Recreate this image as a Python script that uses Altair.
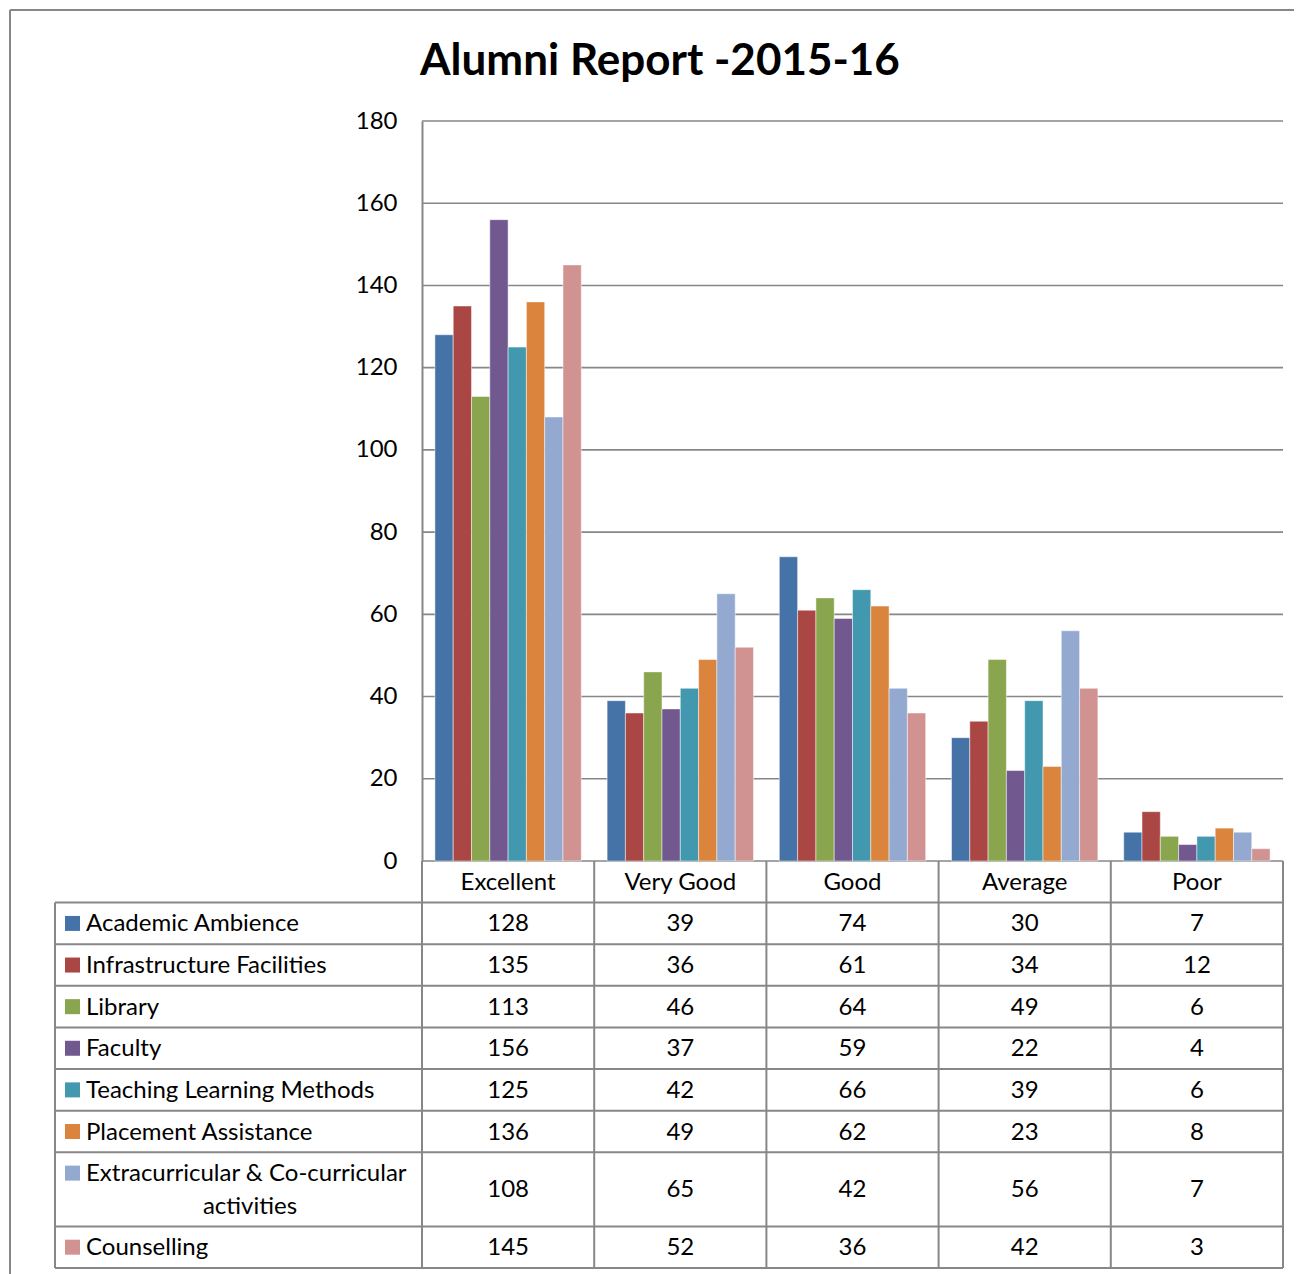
import altair as alt
import pandas as pd

# ---------------- data ----------------
title_text = "Alumni Report -2015-16"
categories = ["Excellent", "Very Good", "Good", "Average", "Poor"]
series = [
    "Academic Ambience",
    "Infrastructure Facilities",
    "Library",
    "Faculty",
    "Teaching Learning Methods",
    "Placement Assistance",
    "Extracurricular & Co-curricular activities",
    "Counselling",
]
label_lines = [
    ["Academic Ambience"],
    ["Infrastructure Facilities"],
    ["Library"],
    ["Faculty"],
    ["Teaching Learning Methods"],
    ["Placement Assistance"],
    ["Extracurricular & Co-curricular", "activities"],
    ["Counselling"],
]
academic = [128, 39, 74, 30, 7]
infrastructure = [135, 36, 61, 34, 12]
library = [113, 46, 64, 49, 6]
faculty = [156, 37, 59, 22, 4]
teaching = [125, 42, 66, 39, 6]
placement = [136, 49, 62, 23, 8]
extracurricular = [108, 65, 42, 56, 7]
counselling = [145, 52, 36, 42, 3]
values = [academic, infrastructure, library, faculty, teaching, placement,
          extracurricular, counselling]
colors = ["#4572A7", "#AA4643", "#89A54E", "#71588F", "#4198AF", "#DB843D",
          "#93A9CF", "#D19392"]
y_ticks = [0, 20, 40, 60, 80, 100, 120, 140, 160, 180]

# ---------------- layout ----------------
W = 1228          # whole area: table label column + plot
H = 1147          # plot + data table
PLOT_H = 740      # bar plot height
LABEL_W = 367     # width of the table's label column
EXTRA = 0.78      # extra row height (in row units) per added text line
FONT = "Lato"
FS = 24
LINE = "#878787"

# ---------------- tables ----------------
bars_df = pd.DataFrame(
    [{"series": s, "category": c, "value": v}
     for s, vals in zip(series, values) for c, v in zip(categories, vals)]
)

row_h = [1 + EXTRA * (len(l) - 1) for l in label_lines]
starts = []
acc = 1.0
for h in row_h:
    starts.append(acc)
    acc += h
T = acc

cells_df = pd.DataFrame(
    [{"series": s, "category": c, "value": v, "y": st + h / 2}
     for s, vals, st, h in zip(series, values, starts, row_h)
     for c, v in zip(categories, vals)]
)
header_df = pd.DataFrame({"category": categories, "y": [0.5] * len(categories)})
keys_df = pd.DataFrame({"series": series, "y": [st + 0.5 for st in starts]})
lab1_df = pd.DataFrame({"text": [l[0] for l in label_lines],
                        "y": [st + 0.5 for st in starts]})
lab2_df = pd.DataFrame(
    [{"text": t, "y": st + 0.5 + EXTRA * i}
     for l, st in zip(label_lines, starts) for i, t in enumerate(l) if i > 0]
)
row_lines_df = pd.DataFrame({"y": [1.0] + [st + h for st, h in zip(starts, row_h)]})
col_df = pd.DataFrame({"category": categories, "y0": 0.0, "y1": T})
col_end_df = pd.DataFrame({"category": [categories[-1]], "y0": [0.0], "y1": [T]})
left_df = pd.DataFrame({"y0": [1.0], "y1": [T]})
grid_df = pd.DataFrame({"tick": y_ticks})
title_df = pd.DataFrame({"title": [title_text]})
one = pd.DataFrame({"a": [0]})

# ---------------- scales ----------------
x_bar = alt.Scale(domain=categories, range=[LABEL_W, W], paddingInner=0.15,
                  paddingOuter=0.075)
y_bar = alt.Scale(domain=[0, 180], range=[PLOT_H, 0], nice=False, zero=True)
x_tab = alt.Scale(domain=categories, range=[LABEL_W, W], paddingInner=0,
                  paddingOuter=0)
y_tab = alt.Scale(domain=[0, T], range=[PLOT_H, H], nice=False, zero=False)
color_scale = alt.Scale(domain=series, range=colors)

# ---------------- layers ----------------
grid = alt.Chart(grid_df).mark_rule(color=LINE, strokeWidth=1.6).encode(
    y=alt.Y("tick:Q", scale=y_bar, axis=None),
    x=alt.value(LABEL_W), x2=alt.value(W),
)

bars = alt.Chart(bars_df).mark_bar(stroke="white", strokeWidth=0.8,
                                   strokeOpacity=0.6).encode(
    x=alt.X("category:N", scale=x_bar, sort=categories, axis=None),
    xOffset=alt.XOffset("series:N", sort=series,
                        scale=alt.Scale(domain=series, paddingInner=0,
                                        paddingOuter=0)),
    y=alt.Y("value:Q", scale=y_bar,
            axis=alt.Axis(orient="left", offset=-LABEL_W, values=y_ticks,
                          grid=False, ticks=False, tickSize=0, domain=True,
                          domainColor=LINE, domainWidth=2, labelFont=FONT,
                          labelFontSize=FS, labelColor="black",
                          labelPadding=25, title=None)),
    color=alt.Color("series:N", scale=color_scale, legend=None),
)

row_lines = alt.Chart(row_lines_df).mark_rule(color=LINE, strokeWidth=2).encode(
    y=alt.Y("y:Q", scale=y_tab, axis=None),
    x=alt.value(0), x2=alt.value(W),
)
col_lines = alt.Chart(col_df).mark_rule(color=LINE, strokeWidth=2).encode(
    x=alt.X("category:N", scale=x_tab, sort=categories, bandPosition=0, axis=None),
    y=alt.Y("y0:Q", scale=y_tab, axis=None), y2="y1:Q",
)
col_end = alt.Chart(col_end_df).mark_rule(color=LINE, strokeWidth=2).encode(
    x=alt.X("category:N", scale=x_tab, sort=categories, bandPosition=1, axis=None),
    y=alt.Y("y0:Q", scale=y_tab, axis=None), y2="y1:Q",
)
left_line = alt.Chart(left_df).mark_rule(color=LINE, strokeWidth=2).encode(
    x=alt.value(0),
    y=alt.Y("y0:Q", scale=y_tab, axis=None), y2="y1:Q",
)

header = alt.Chart(header_df).mark_text(font=FONT, fontSize=FS, color="black",
                                        baseline="middle", dy=1).encode(
    x=alt.X("category:N", scale=x_tab, sort=categories, axis=None),
    y=alt.Y("y:Q", scale=y_tab, axis=None),
    text="category:N",
)
cells = alt.Chart(cells_df).mark_text(font=FONT, fontSize=FS, color="black",
                                      baseline="middle", dy=1).encode(
    x=alt.X("category:N", scale=x_tab, sort=categories, axis=None),
    y=alt.Y("y:Q", scale=y_tab, axis=None),
    text="value:Q",
)
keys = alt.Chart(keys_df).mark_square(size=225, opacity=1, filled=True).encode(
    x=alt.value(17.5),
    y=alt.Y("y:Q", scale=y_tab, axis=None),
    color=alt.Color("series:N", scale=color_scale, legend=None),
)
labels1 = alt.Chart(lab1_df).mark_text(font=FONT, fontSize=FS, color="black",
                                       align="left", baseline="middle",
                                       dy=1).encode(
    x=alt.value(31),
    y=alt.Y("y:Q", scale=y_tab, axis=None),
    text="text:N",
)
labels2 = alt.Chart(lab2_df).mark_text(font=FONT, fontSize=FS, color="black",
                                       align="center", baseline="middle",
                                       dy=1).encode(
    x=alt.value(195),
    y=alt.Y("y:Q", scale=y_tab, axis=None),
    text="text:N",
)

title = alt.Chart(title_df).mark_text(font=FONT, fontSize=44, fontWeight="bold",
                                      color="black", align="center",
                                      baseline="alphabetic").encode(
    x=alt.value(605), y=alt.value(-46), text="title:N",
)

frame_left = alt.Chart(one).mark_rule(color=LINE, strokeWidth=2).encode(
    x=alt.value(-45), y=alt.value(-111), y2=alt.value(H + 40),
)
frame_top = alt.Chart(one).mark_rule(color=LINE, strokeWidth=2).encode(
    x=alt.value(-45), x2=alt.value(W + 40), y=alt.value(-111),
)

chart = alt.layer(
    frame_left, frame_top, grid, bars, row_lines, col_lines, col_end, left_line,
    header, cells, keys, labels1, labels2, title,
).resolve_scale(
    x="independent", y="independent"
).properties(
    width=W, height=H,
    autosize=alt.AutoSizeParams(type="none"),
    padding={"left": 47, "top": 113, "right": 11, "bottom": 6},
    background="white",
).configure_view(stroke="transparent", strokeWidth=0)

chart.save("out.html", embed_options={"renderer": "svg", "actions": False})
